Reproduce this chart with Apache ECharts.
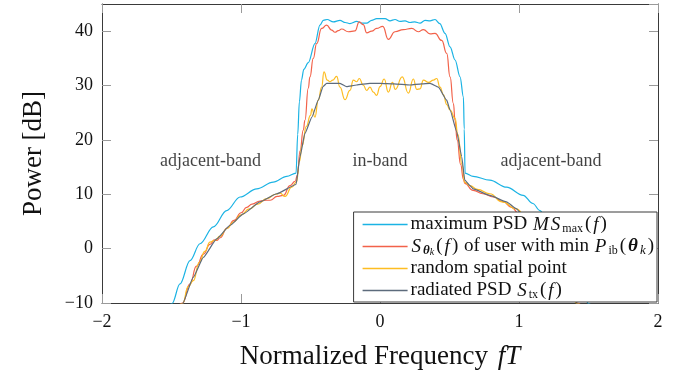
<!DOCTYPE html>
<html>
<head>
<meta charset="utf-8">
<script src="https://cdn.jsdelivr.net/npm/echarts@6/dist/echarts.min.js"></script>
<style>
  html, body { margin: 0; background: #fff; }
  #chart { width: 685px; height: 376px; }
</style>
</head>
<body>
<div id="chart"></div>
<script>
// maximum PSD M S_max(f)
const maxPsdFreq = [-1.56, -1.496, -1.439, -1.367, -1.295, -1.199, -1.103, -1.007, -0.887, -0.768, -0.671, -0.604,
  -0.592, -0.58, -0.565, -0.548, -0.516, -0.468, -0.432, -0.408, -0.38, -0.336, -0.288, -0.25, -0.216, -0.168,
  -0.13, -0.096, -0.06, -0.024, 0.036, 0.072, 0.108, 0.144, 0.18, 0.216, 0.25, 0.288, 0.324, 0.36, 0.396, 0.43,
  0.468, 0.504, 0.54, 0.576, 0.6, 0.606, 0.612, 0.67, 0.79, 0.91, 1.03, 1.1, 1.15, 1.2, 1.3, 1.37, 1.44, 1.5, 1.56];
const maxPsdPower = [-12, -10.1, -6.5, -2.2, 0.9, 4.0, 7.0, 9.5, 11.0, 12.25, 13.3, 13.9,
  21, 27, 31, 33.0, 34.2, 37.7, 41.1, 42.0, 42.15, 41.7, 42.0, 41.6, 41.4, 41.8,
  41.5, 41.5, 42.0, 42.3, 42.3, 41.9, 42.15, 41.8, 41.9, 41.6, 41.7, 41.5, 42.0, 41.9, 42.15, 41.4,
  39.6, 37.1, 34.7, 31.6, 27.9, 22, 13.9, 13.3, 12.6, 11.3, 9.8, 8.3, 7.0, 5.5, 1.0, -2.2, -6.5, -10.1, -12];

// S_theta_k(f) of user with min P_ib
const userPsdFreq = [-1.48, -1.42, -1.367, -1.32, -1.27, -1.223, -1.19, -1.175, -1.15, -1.1, -1.05, -0.999, -0.959,
  -0.92, -0.863, -0.82, -0.79, -0.74, -0.695, -0.647, -0.61, -0.595, -0.575, -0.552, -0.54, -0.516, -0.504, -0.48,
  -0.456, -0.42, -0.384, -0.348, -0.324, -0.3, -0.276, -0.228, -0.18, -0.149, -0.12, -0.096, -0.06, -0.024, 0.02,
  0.06, 0.108, 0.168, 0.228, 0.276, 0.312, 0.36, 0.396, 0.444, 0.48, 0.504, 0.528, 0.54, 0.555, 0.58, 0.6, 0.61,
  0.67, 0.74, 0.815, 0.887, 0.947, 1.0, 1.1, 1.2, 1.3, 1.37, 1.42, 1.48];
const userPsdPower = [-12, -10, -6.5, -3.2, -1.0, 0.8, 1.6, 1.5, 2.0, 3.8, 5.2, 6.6, 7.6,
  8.2, 8.75, 8.9, 8.9, 9.6, 9.8, 11.6, 12.4, 13.5, 18, 21.8, 23.6, 29.5, 31.6, 35,
  37.7, 40.5, 41.1, 40.2, 39.8, 40.1, 40.4, 39.9, 40.05, 41.7, 41.2, 39.7, 40.0, 40.5, 40.9,
  38.5, 39.9, 40.3, 40.5, 39.9, 40.3, 39.5, 39.6, 38.3, 35.9, 31.6, 26.7, 23.6, 20, 15.5, 12.8, 12.0,
  10.7, 10.1, 9.5, 8.6, 7.6, 6.4, 3.8, 0.8, -2.8, -6.5, -10, -12];

// random spatial point
const randomFreq = [-1.48, -1.42, -1.38, -1.343, -1.3, -1.26, -1.223, -1.19, -1.15, -1.1, -1.055, -1.0, -0.94,
  -0.88, -0.815, -0.75, -0.72, -0.683, -0.635, -0.6, -0.58, -0.56, -0.53, -0.5, -0.49, -0.468, -0.444, -0.42,
  -0.403, -0.379, -0.36, -0.34, -0.312, -0.288, -0.252, -0.216, -0.192, -0.168, -0.149, -0.12, -0.096, -0.072,
  -0.048, -0.024, 0.0, 0.03, 0.06, 0.09, 0.11, 0.16, 0.204, 0.24, 0.264, 0.288, 0.312, 0.35, 0.384, 0.408, 0.432,
  0.456, 0.48, 0.504, 0.54, 0.56, 0.59, 0.61, 0.647, 0.7, 0.79, 0.88, 0.98, 1.08, 1.18, 1.27, 1.34, 1.42, 1.48];
const randomPower = [-12, -10.1, -7, -5.9, -2.5, -0.5, 1.2, 1.5, 2.3, 3.7, 4.9, 6.2, 7.3,
  8.2, 9.2, 10.0, 10.2, 9.6, 11.3, 12.3, 16, 19, 22.5, 24.5, 25.7, 24.2, 27.3, 29.7,
  32.5, 31.0, 30.7, 31.0, 31.7, 29.7, 27.4, 29.1, 31.0, 30.7, 31.3, 30.05, 29.1, 29.7,
  28.8, 28.2, 29.8, 31.2, 28.8, 30.6, 29.3, 31.6, 28.6, 31.2, 29.3, 29.4, 31.0, 30.6, 31.0, 31.3, 29.7,
  28.3, 26.5, 25.5, 24.0, 21, 15.5, 12.2, 11.6, 10.9, 10.1, 8.6, 7.3, 4.5, 1.5, -1.8, -5.5, -10.1, -12];

// radiated PSD S_tx(f)
const radiatedFreq = [-1.48, -1.42, -1.343, -1.271, -1.175, -1.079, -0.983, -0.863, -0.743, -0.604, -0.576, -0.54,
  -0.49, -0.444, -0.41, -0.384, -0.288, -0.24, -0.168, -0.072, 0, 0.1, 0.216, 0.3, 0.36, 0.42, 0.48, 0.504,
  0.552, 0.588, 0.61, 0.647, 0.67, 0.79, 0.91, 0.98, 1.079, 1.175, 1.271, 1.343, 1.42, 1.48];
const radiatedPower = [-12, -10.1, -5.25, -1.6, 1.8, 4.3, 6.4, 8.6, 10.1, 11.8, 16.9, 21.2,
  24.2, 27.3, 29.8, 30.4, 30.4, 29.8, 30.1, 30.4, 30.4, 30.3, 30.1, 30.3, 30.4, 29.7, 27.3, 25.5,
  21.5, 16.9, 12.6, 11.6, 11.0, 9.8, 8.6, 7.35, 4.3, 1.8, -1.6, -5.25, -10.1, -12];

const bandLabels = ["adjacent-band", "in-band", "adjacent-band"];
const bandLabelFreq = [-1.22, 0, 1.23];
const bandLabelPower = 16.1;

const xMin = -2, xMax = 2, xStep = 1;
const yMin = -10, yMax = 45, yStep = 10;

const FONT = "'Liberation Serif', 'Times New Roman', serif";
const pairs = (xs, ys) => xs.map((x, i) => [x, ys[i]]);
const minus = (v) => (v < 0 ? "\u2212" + Math.abs(v) : String(v));

const legendText = {
  max: "maximum PSD {i|M}{i|S}{s|max}{p|(}{i|f}{p|)}",
  user: "{i|S}{sb|\u03b8}{ss|k}{p|(}{i|f}{p|)} of user with min {i|P}{s|ib}{p|(}{b|\u03b8}{si|k}{p|)}",
  random: "random spatial point",
  radiated: "radiated PSD {i|S}{s|tx}{p|(}{i|f}{p|)}",
};

const chart = echarts.init(document.getElementById("chart"));

const frameAxis = {
  min: xMin, max: xMax, interval: xStep,
  axisLine: { show: true, onZero: false, lineStyle: { color: "#3a3a3a", width: 1 } },
  axisTick: { show: true, inside: true, length: 9, lineStyle: { color: "#9a9a9a" } },
  splitLine: { show: false },
};

function lineSeries(name, xs, ys, color, smooth) {
  return {
    name,
    type: "line",
    data: pairs(xs, ys),
    symbol: "none",
    smooth,
    smoothMonotone: "x",
    clip: true,
    lineStyle: { color, width: 1.2 },
    itemStyle: { color },
  };
}

const LF = 19;
const txt = { color: "#111", fontFamily: FONT };

chart.setOption({
  backgroundColor: "#fff",
  animation: false,
  textStyle: { fontFamily: FONT },
  grid: { left: 102, right: 27, top: 4, bottom: 73, containLabel: false, outerBoundsMode: "none" },
  xAxis: [
    {
      ...frameAxis,
      type: "value",
      position: "bottom",
      axisLabel: { ...txt, fontSize: 18, margin: 10, formatter: minus },
      name: "Normalized Frequency {i|fT}",
      nameLocation: "middle",
      nameGap: 40,
      nameTextStyle: {
        ...txt, fontSize: 27,
        rich: { i: { ...txt, fontStyle: "italic", fontSize: 27, padding: [0, 0, 0, 3] } },
      },
    },
    {
      ...frameAxis,
      type: "value",
      position: "top",
      axisLabel: { show: false },
    },
  ],
  yAxis: [
    {
      ...frameAxis,
      type: "value",
      min: yMin, max: yMax, interval: yStep,
      position: "left",
      axisLabel: { ...txt, fontSize: 18, margin: 9, showMaxLabel: false, formatter: minus },
      name: "Power [dB]",
      nameLocation: "middle",
      nameGap: 55,
      nameTextStyle: { ...txt, fontSize: 27 },
    },
    {
      ...frameAxis,
      type: "value",
      min: yMin, max: yMax, interval: yStep,
      position: "right",
      axisLabel: { show: false },
    },
  ],
  legend: {
    data: ["max", "user", "random", "radiated"],
    orient: "vertical",
    right: 28,
    bottom: 74,
    padding: [2, 2, 1, 9],
    itemGap: 1,
    itemWidth: 45,
    itemHeight: 1.3,
    icon: "rect",
    backgroundColor: "#fff",
    borderColor: "#3a3a3a",
    borderWidth: 1,
    borderRadius: 0,
    formatter: (name) => legendText[name],
    textStyle: {
      ...txt, fontSize: LF, lineHeight: 21, padding: [0, 0, 0, -2],
      rich: {
        i: { ...txt, fontStyle: "italic", fontSize: LF, lineHeight: 21, padding: [0, 1, 0, 1] },
        p: { ...txt, fontSize: LF, lineHeight: 21, padding: [0, 1, 0, 1] },
        b: { ...txt, fontStyle: "italic", fontWeight: "bold", fontSize: LF, lineHeight: 21, padding: [0, 1, 0, 1] },
        s: { ...txt, fontSize: 12, lineHeight: 12, verticalAlign: "bottom", padding: [0, 1, 0, 1] },
        si: { ...txt, fontStyle: "italic", fontSize: 13, lineHeight: 12, verticalAlign: "bottom", padding: [0, 1, 0, 1] },
        sb: { ...txt, fontStyle: "italic", fontWeight: "bold", fontSize: 13, lineHeight: 13, verticalAlign: "bottom", padding: [0, 0, 0, 1] },
        ss: { ...txt, fontStyle: "italic", fontSize: 10, lineHeight: 6, verticalAlign: "bottom", padding: [0, 1, 0, 0] },
      },
    },
  },
  series: [
    {
      name: "bands",
      type: "scatter",
      data: bandLabelFreq.map((x, i) => [x, bandLabelPower, bandLabels[i]]),
      symbolSize: 1,
      itemStyle: { color: "transparent" },
      silent: true,
      label: {
        show: true, position: "inside", formatter: (p) => p.data[2],
        ...txt, fontSize: 18,
      },
    },
    lineSeries("max", maxPsdFreq, maxPsdPower, "#1bb3e4", 0.35),
    lineSeries("user", userPsdFreq, userPsdPower, "#f2624a", 0.5),
    lineSeries("random", randomFreq, randomPower, "#fdbd22", 0.5),
    lineSeries("radiated", radiatedFreq, radiatedPower, "#5d6b7c", 0.15),
  ],
});
</script>
</body>
</html>
